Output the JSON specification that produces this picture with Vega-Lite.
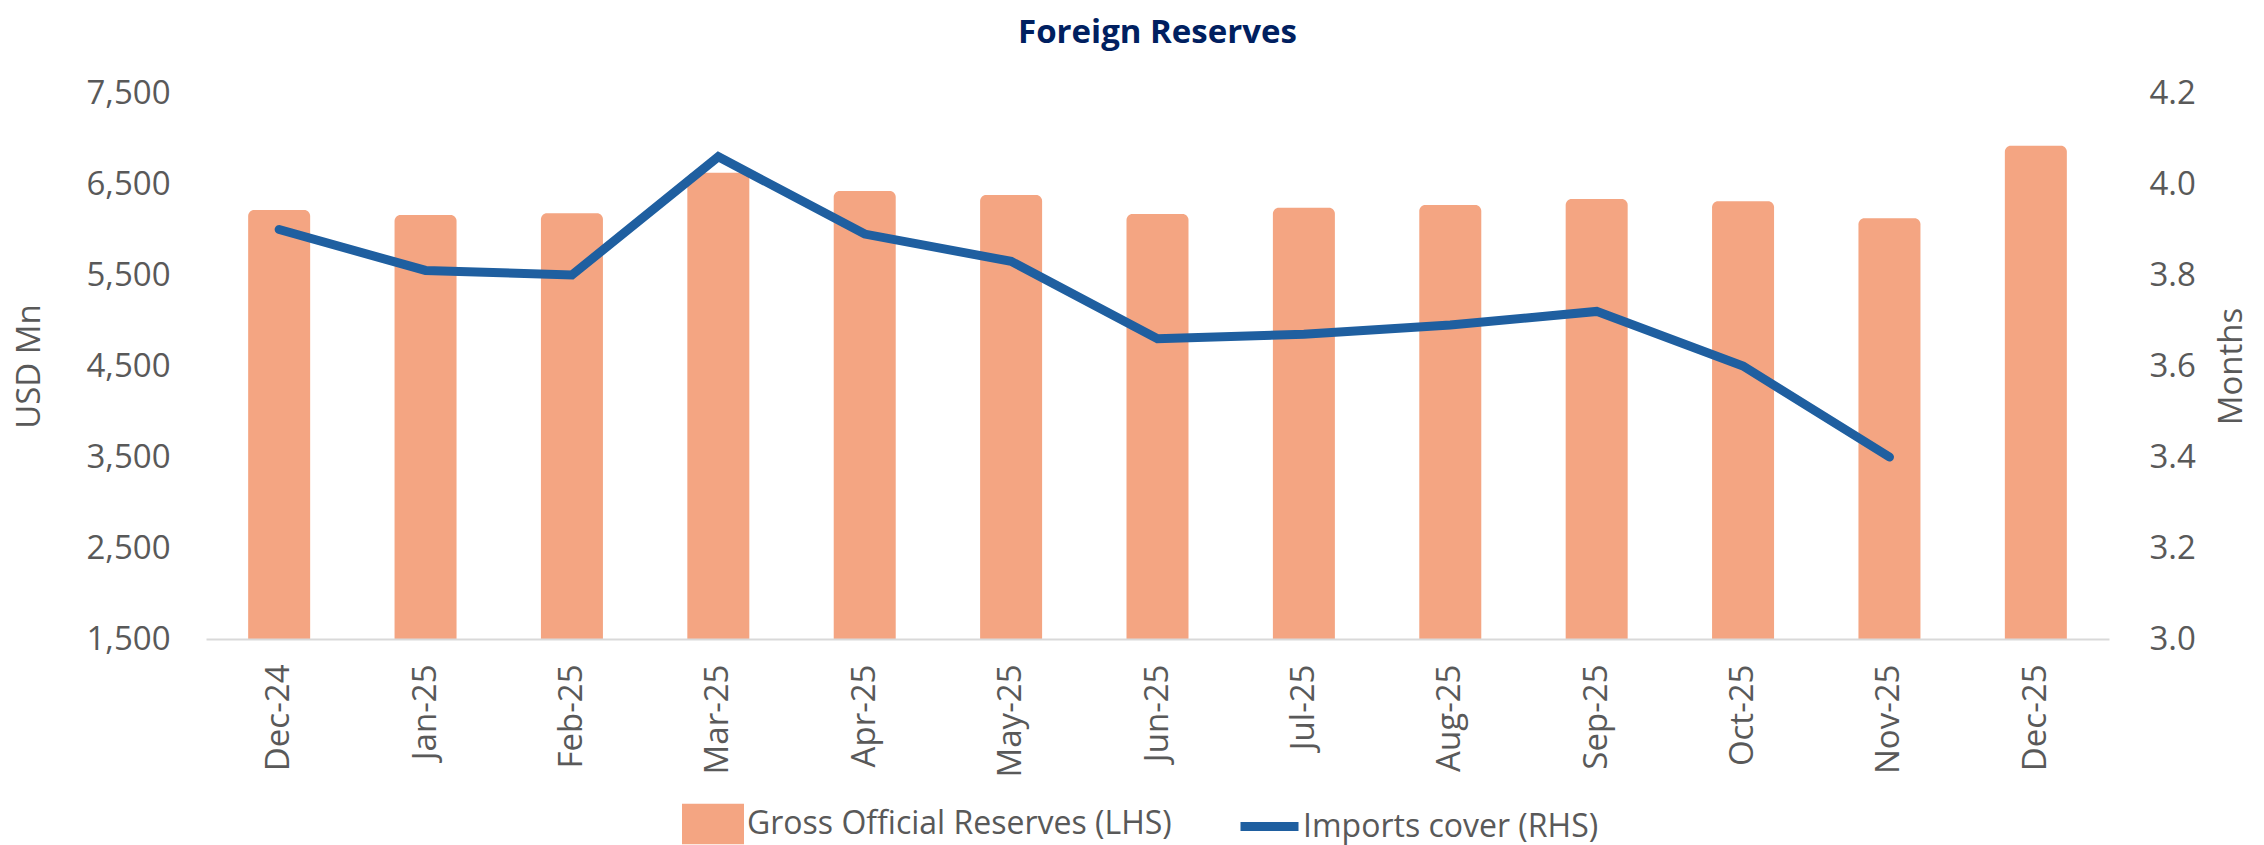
{
  "$schema": "https://vega.github.io/schema/vega-lite/v6.json",
  "width": 1903,
  "height": 546,
  "autosize": "none",
  "padding": {"left": 206, "top": 93, "right": 155, "bottom": 206},
  "background": "white",
  "title": {"text": "Foreign Reserves", "font": "Open Sans", "fontSize": 33, "fontWeight": "bold", "color": "#002060", "anchor": "middle", "frame": "group", "offset": 27},
  "data": {"values": [
    {"month": "Dec-24", "reserves": 6214, "cover": 3.90},
    {"month": "Jan-25", "reserves": 6159, "cover": 3.81},
    {"month": "Feb-25", "reserves": 6178, "cover": 3.80},
    {"month": "Mar-25", "reserves": 6624, "cover": 4.06},
    {"month": "Apr-25", "reserves": 6423, "cover": 3.89},
    {"month": "May-25", "reserves": 6379, "cover": 3.83},
    {"month": "Jun-25", "reserves": 6170, "cover": 3.66},
    {"month": "Jul-25", "reserves": 6240, "cover": 3.67},
    {"month": "Aug-25", "reserves": 6269, "cover": 3.69},
    {"month": "Sep-25", "reserves": 6335, "cover": 3.72},
    {"month": "Oct-25", "reserves": 6310, "cover": 3.60},
    {"month": "Nov-25", "reserves": 6123, "cover": 3.40},
    {"month": "Dec-25", "reserves": 6921, "cover": null}
  ]},
  "encoding": {
    "x": {
      "field": "month", "type": "nominal", "sort": null,
      "scale": {"paddingInner": 0.5765, "paddingOuter": 0.288},
      "axis": {"title": null, "labelAngle": -90, "labelPadding": 25, "ticks": false, "domainColor": "#d9d9d9", "domainWidth": 2, "labelFont": "Open Sans", "labelFontSize": 33, "labelColor": "#595959", "grid": false, "zindex": 1}
    }
  },
  "layer": [
    {
      "mark": {"type": "bar", "cornerRadiusTopLeft": 6, "cornerRadiusTopRight": 6},
      "encoding": {
        "y": {
          "field": "reserves", "type": "quantitative",
          "scale": {"domain": [1500, 7500], "zero": false, "nice": false},
          "axis": {"title": "USD Mn", "values": [1500, 2500, 3500, 4500, 5500, 6500, 7500], "format": ",.0f", "grid": false, "domain": false, "ticks": false, "labelFont": "Open Sans", "labelFontSize": 33, "labelColor": "#595959", "labelPadding": 36, "titleFont": "Open Sans", "titleFontSize": 33, "titleColor": "#595959", "titleFontWeight": "normal", "titlePadding": 39}
        },
        "y2": {"datum": 1500},
        "fill": {
          "datum": "Gross Official Reserves (LHS)", "type": "nominal",
          "scale": {"range": ["#F4A582"]},
          "legend": {"title": null, "orient": "none", "legendX": 476, "legendY": 700, "symbolType": "M-1,-0.65H1V0.65H-1Z", "symbolSize": 3844, "symbolStrokeWidth": 0, "labelFont": "Open Sans", "labelFontSize": 32, "labelColor": "#595959", "labelOffset": 3, "labelLimit": 0}
        }
      }
    },
    {
      "mark": {"type": "line", "strokeWidth": 9, "strokeJoin": "miter", "strokeCap": "round"},
      "encoding": {
        "y": {
          "field": "cover", "type": "quantitative",
          "scale": {"domain": [3.0, 4.2], "zero": false, "nice": false},
          "axis": {"orient": "right", "title": "Months", "values": [3.0, 3.2, 3.4, 3.6, 3.8, 4.0, 4.2], "format": ".1f", "grid": false, "domain": false, "ticks": false, "labelFont": "Open Sans", "labelFontSize": 33, "labelColor": "#595959", "labelPadding": 40, "titleFont": "Open Sans", "titleFontSize": 33, "titleColor": "#595959", "titleFontWeight": "normal", "titleAngle": -90, "titleBaseline": "top", "titlePadding": 20}
        },
        "stroke": {
          "datum": "Imports cover (RHS)", "type": "nominal",
          "scale": {"range": ["#1F5FA0"]},
          "legend": {"title": null, "orient": "none", "legendX": 1030, "legendY": 700, "symbolType": "stroke", "symbolSize": 3364, "symbolStrokeWidth": 9, "labelFont": "Open Sans", "labelFontSize": 32, "labelColor": "#595959", "labelOffset": 0, "labelLimit": 0}
        }
      }
    }
  ],
  "resolve": {"scale": {"y": "independent", "fill": "independent", "stroke": "independent"}},
  "config": {"view": {"stroke": null}}
}
